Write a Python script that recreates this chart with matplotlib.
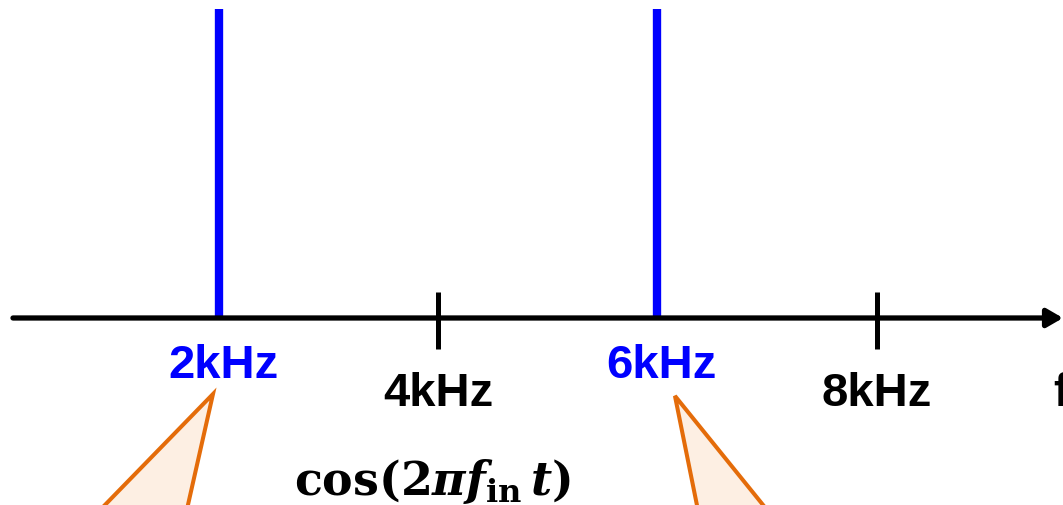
import matplotlib
matplotlib.use("Agg")
import matplotlib.pyplot as plt
from matplotlib.patches import Polygon, ArrowStyle

# Spectrum content (kHz)
signal_freqs = [2, 6]
signal_amps = [1.0, 1.0]
signal_labels = ["2kHz", "6kHz"]
grid_freqs = [4, 8]
grid_labels = ["4kHz", "8kHz"]
axis_label = "f"
formula = r"$\mathrm{cos}(2\pi f_{\mathrm{in}}\,t)$"

BLUE = "#0000FF"
ORANGE = "#E46C0A"
PEACH = "#FDEFE3"

plt.rcParams["mathtext.fontset"] = "custom"
plt.rcParams["mathtext.rm"] = "DejaVu Serif:bold"
plt.rcParams["mathtext.it"] = "DejaVu Serif:italic:bold"
plt.rcParams["mathtext.bf"] = "DejaVu Serif:bold"

fig = plt.figure(figsize=(10.63, 5.06), dpi=100)
ax = fig.add_axes([0, 0, 1, 1])
ax.set_xlim(0.0046, 9.699)
ax.set_ylim(-0.605, 1.032)
ax.axis("off")

# frequency axis with arrow head
ax.annotate("", xy=(9.699, 0), xytext=(0.123, 0),
            arrowprops=dict(arrowstyle=ArrowStyle("-|>", head_length=0.95, head_width=0.55),
                            mutation_scale=10, lw=3.8, color="black",
                            shrinkA=0, shrinkB=0), zorder=3)

# spectral lines
for f, a in zip(signal_freqs, signal_amps):
    ax.plot([f, f], [0, a], color=BLUE, lw=6.0, solid_capstyle="butt", zorder=2)

# tick marks
for f in grid_freqs:
    ax.plot([f, f], [0.084, -0.100], color="black", lw=3.6, solid_capstyle="butt", zorder=3)

label_font = dict(family="Liberation Sans", fontweight="bold", fontsize=34)
for f, lab in zip(signal_freqs, signal_labels):
    ax.text(f + 0.04, -0.191, lab, color=BLUE, ha="center", va="baseline", **label_font)
for f, lab in zip(grid_freqs, grid_labels):
    ax.text(f, -0.282, lab, color="black", ha="center", va="baseline", **label_font)
ax.text(9.608, -0.282, axis_label, color="black", ha="left", va="baseline", **label_font)

# callout pointers under the spectral line labels
callouts = [
    [(signal_freqs[0] - 0.053, -0.246), (signal_freqs[0] - 1.162, -0.65), (signal_freqs[0] - 0.31, -0.65)],
    [(signal_freqs[1] + 0.160, -0.252), (signal_freqs[1] + 0.386, -0.65), (signal_freqs[1] + 1.066, -0.65)],
]
for pts in callouts:
    ax.add_patch(Polygon(pts, closed=True, facecolor=PEACH, edgecolor=ORANGE,
                         lw=2.9, joinstyle="miter", zorder=1))

ax.text(3.944, -0.570, formula, color="black", ha="center", va="baseline", fontsize=33)

fig.savefig("out.png", dpi=100)
